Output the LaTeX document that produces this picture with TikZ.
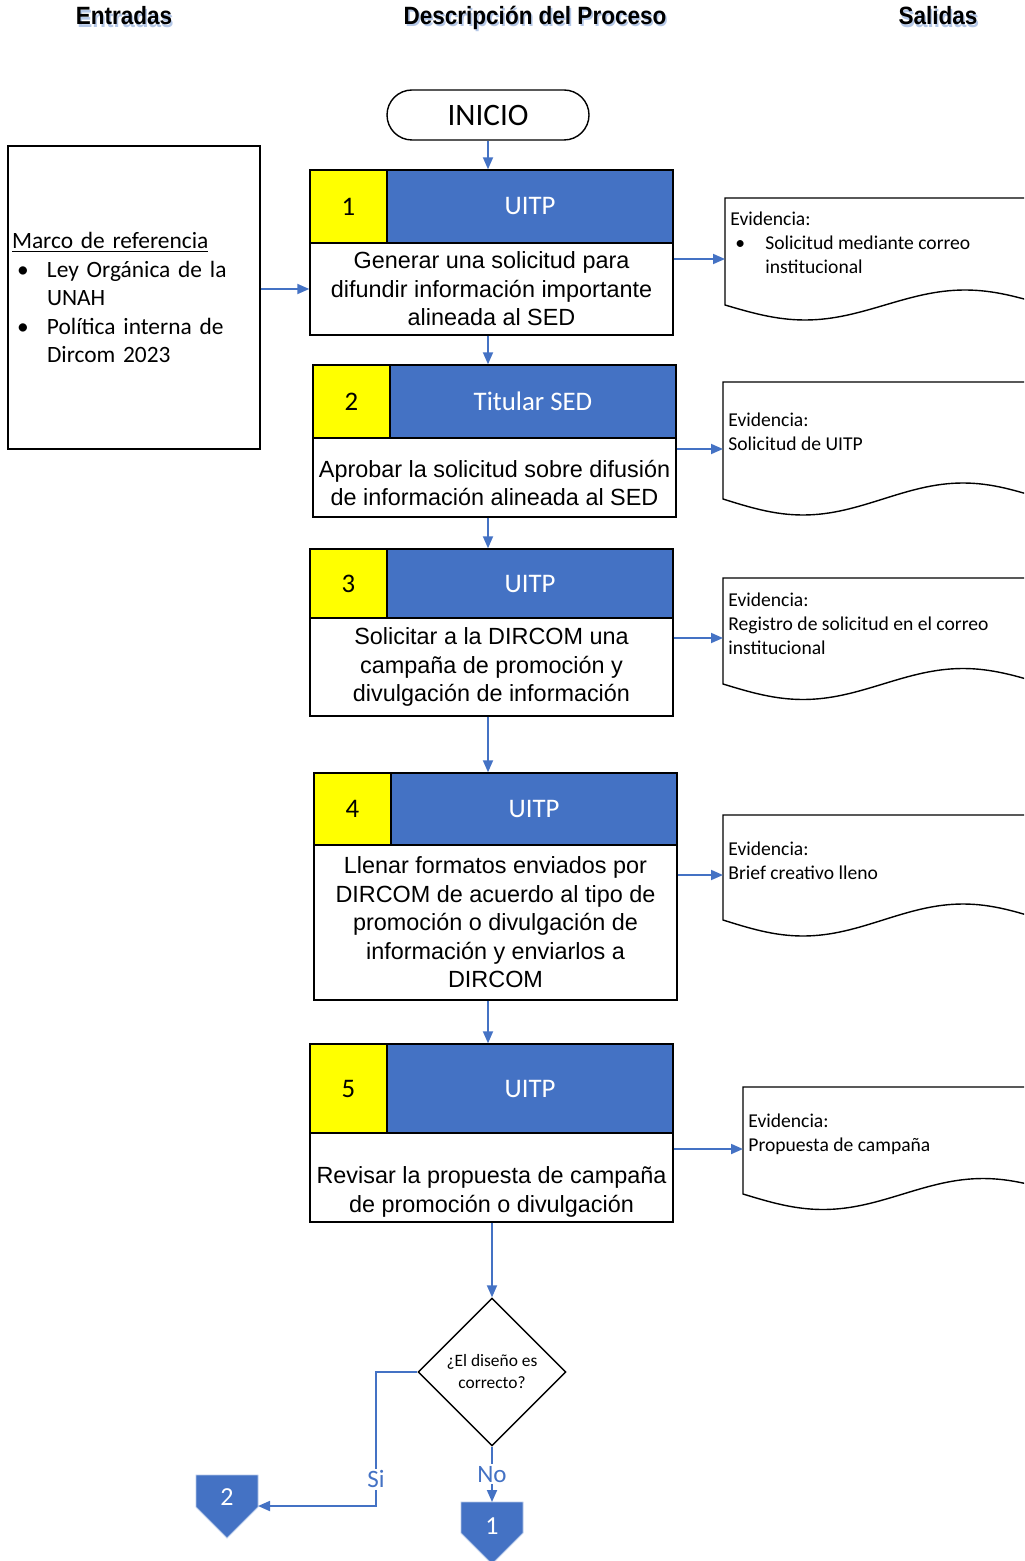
\documentclass[tikz,border=0pt]{standalone}
\usepackage{fontspec}
\setmainfont{Liberation Sans}
\newfontfamily\calibri{Carlito}
\newfontfamily\titulofont[FakeStretch=0.9]{Liberation Sans Bold}
\usetikzlibrary{arrows.meta, shapes.geometric, calc}
\definecolor{azul}{HTML}{4472C4}
\definecolor{amarillo}{HTML}{FFFF00}
\definecolor{sombra}{HTML}{B4C7E7}
\newcommand{\sombra}[1]{\rlap{\kern0.8pt\raisebox{-1.3pt}{\color{sombra}#1}}#1}

\begin{document}
\begin{tikzpicture}[x=0.5pt, y=-0.5pt]

    % Page frame
    \useasboundingbox (0,0) rectangle (1024,1561);
    \clip (0,0) rectangle (1024,1561);

    % Process boxes
    \tikzset{num/.style={draw=black, line width=0.7pt, fill=amarillo, inner sep=0pt, minimum width=38.5pt, font=\calibri\fontsize{13.4}{16}\selectfont}}
    \tikzset{resp/.style={draw=black, line width=0.7pt, fill=azul, text=white, inner sep=0pt, minimum width=143pt, font=\calibri\fontsize{13.4}{16}\selectfont}}
    \tikzset{act/.style={draw=black, line width=0.7pt, fill=white, inner sep=0pt, minimum width=181.5pt, align=center, font=\fontsize{11.7}{14.25}\selectfont}}
    \tikzset{acttxt/.style={align=center, inner sep=0pt, font=\fontsize{11.7}{14.25}\selectfont}}

    % Evidence documents
    \tikzset{doc/.style={draw=black, line width=0.7pt, fill=white}}
    \tikzset{ev/.style={anchor=west, inner sep=0pt, align=left, font=\calibri\fontsize{9.8}{12}\selectfont}}

    % Connectors
    \tikzset{arr/.style={draw=azul, line width=0.9pt, -{Triangle[length=6pt, width=5pt]}}}
    \tikzset{con/.style={fill=azul, draw=azul!40, line width=0.4pt}}
    \tikzset{contxt/.style={text=white, font=\calibri\fontsize{13}{15}\selectfont}}
    \tikzset{lbl/.style={fill=white, text=azul, inner sep=1pt, font=\calibri\fontsize{12.5}{14}\selectfont}}
    \tikzset{head/.style={font=\titulofont\fontsize{12.5}{15}\selectfont}}

    % Column titles
    \node (hin) [head] at (124,17) {\sombra{Entradas}};
    \node (hpr) [head] at (535,19) {\sombra{Descripción del Proceso}};
    \node (hout) [head] at (938,17) {\sombra{Salidas}};

    % Start
    \node (ini) [draw=black, line width=0.7pt, rounded corners=12.5pt, minimum width=101pt, minimum height=25pt, font=\calibri\fontsize{15.6}{18}\selectfont] at (488,115) {INICIO};

    % Inputs
    \node (mr) [draw=black, line width=0.7pt, minimum width=126pt, minimum height=151.5pt, text width=122pt, inner xsep=2pt, align=left, font=\calibri\fontsize{11.7}{14.25}\selectfont] at (134,297.5)
        {\underline{Marco de referencia}\\
         \hspace*{2.5pt}\makebox[15pt][l]{\textbullet}Ley Orgánica de la\\
         \hspace*{17.5pt}UNAH\\
         \hspace*{2.5pt}\makebox[15pt][l]{\textbullet}Política interna de\\
         \hspace*{17.5pt}Dircom 2023};

    % Step 1
    \node (n1) [num, minimum height=36.5pt] at (348.5,206.5) {1};
    \node (h1) [resp, minimum height=36.5pt] at (530,206.5) {UITP};
    \node (w1) [act, minimum height=46pt] at (491.5,289) {Generar una solicitud para\\difundir información importante\\alineada al SED};

    % Step 2
    \node (n2) [num, minimum height=36.5pt] at (351.5,401.5) {2};
    \node (h2) [resp, minimum height=36.5pt] at (533,401.5) {Titular SED};
    \node (w2) [act, minimum height=39.5pt] at (494.5,477.5) {};
    \node (tx2) [acttxt] at (494.5,483) {Aprobar la solicitud sobre difusión\\de información alineada al SED};

    % Step 3
    \node (n3) [num, minimum height=34.5pt] at (348.5,583.5) {3};
    \node (h3) [resp, minimum height=34.5pt] at (530,583.5) {UITP};
    \node (w3) [act, minimum height=49pt] at (491.5,667) {Solicitar a la DIRCOM una\\campaña de promoción y\\divulgación de información};

    % Step 4
    \node (n4) [num, minimum height=36pt] at (352.5,809) {4};
    \node (h4) [resp, minimum height=36pt] at (534,809) {UITP};
    \node (w4) [act, minimum height=77.5pt] at (495.5,922.5) {Llenar formatos enviados por\\DIRCOM de acuerdo al tipo de\\promoción o divulgación de\\información y enviarlos a\\DIRCOM};

    % Step 5
    \node (n5) [num, minimum height=44.5pt] at (348.5,1088.5) {5};
    \node (h5) [resp, minimum height=44.5pt] at (530,1088.5) {UITP};
    \node (w5) [act, minimum height=44.5pt] at (491.5,1177.5) {};
    \node (tx5) [acttxt] at (491.5,1192) {Revisar la propuesta de campaña\\de promoción o divulgación};

    % Decision
    \node (dec) [diamond, draw=black, line width=0.7pt, minimum width=74pt, minimum height=74pt, inner sep=0pt, align=center, font=\calibri\fontsize{8.7}{11}\selectfont] at (492,1372) {¿El diseño es\\correcto?};

    % Off-page connectors
    \path[con] (461,1502) -- (523,1502) -- (523,1533) -- (492,1564) -- (461,1533) -- cycle;
    \node (c1) [contxt] at (492,1526) {1};
    \coordinate (c1t) at (492,1502);
    \path[con] (196,1475) -- (258,1475) -- (258,1507) -- (227,1538) -- (196,1507) -- cycle;
    \node (c2) [contxt] at (227,1497) {2};
    \coordinate (c2e) at (258,1506);
    \coordinate (sc) at (376,1372);

    % Outputs
    \path[doc] (725,305) -- (725,198) -- (1045,198) -- (1045,305) sin (965,290) cos (885,305) sin (805,320) cos (725,305) -- cycle;
    \node (t1) [ev] at (730,243) {Evidencia:\\\hspace*{2.5pt}\makebox[15pt][l]{\textbullet}Solicitud mediante correo\\\hspace*{17.5pt}institucional};
    \coordinate (e1) at (725,259);

    \path[doc] (723,499) -- (723,382) -- (1043,382) -- (1043,499) sin (963,483) cos (883,499) sin (803,515) cos (723,499) -- cycle;
    \node (t2) [ev] at (728,432) {Evidencia:\\Solicitud de UITP};
    \coordinate (e2) at (723,449);

    \path[doc] (723,684) -- (723,578) -- (1043,578) -- (1043,684) sin (963,668.5) cos (883,684) sin (803,699.5) cos (723,684) -- cycle;
    \node (t3) [ev] at (728,623.5) {Evidencia:\\Registro de solicitud en el correo\\institucional};
    \coordinate (e3) at (723,638);

    \path[doc] (723,920) -- (723,815) -- (1043,815) -- (1043,920) sin (963,904) cos (883,920) sin (803,936) cos (723,920) -- cycle;
    \node (t4) [ev] at (728,860.5) {Evidencia:\\Brief creativo lleno};
    \coordinate (e4) at (723,875);

    \path[doc] (743,1194) -- (743,1087) -- (1063,1087) -- (1063,1194) sin (983,1178.5) cos (903,1194) sin (823,1209.5) cos (743,1194) -- cycle;
    \node (t5) [ev] at (748,1134) {Evidencia:\\Propuesta de campaña};
    \coordinate (e5) at (743,1149);

    % Flow
    \draw[arr] (ini.south) -- (ini.south |- n1.north);
    \draw[arr] (w1.south -| ini.south) -- (h2.north -| ini.south);
    \draw[arr] (w2.south -| ini.south) -- (h3.north -| ini.south);
    \draw[arr] (w3.south -| ini.south) -- (h4.north -| ini.south);
    \draw[arr] (w4.south -| ini.south) -- (h5.north -| ini.south);
    \draw[arr] (w5.south -| dec.north) -- (dec.north);
    \draw[arr] (mr.east |- w1.west) -- (w1.west);

    % Evidence arrows
    \draw[arr] (w1.east |- e1) -- (e1);
    \draw[arr] (w2.east |- e2) -- (e2);
    \draw[arr] (w3.east |- e3) -- (e3);
    \draw[arr] (w4.east |- e4) -- (e4);
    \draw[arr] (w5.east |- e5) -- (e5);

    % Decision branches
    \draw[arr] (dec.south) -- node[lbl] {No} (c1t);
    \draw[arr] (dec.west) -- (sc) |- node[lbl, pos=0.4] {Si} (c2e);

\end{tikzpicture}
\end{document}
